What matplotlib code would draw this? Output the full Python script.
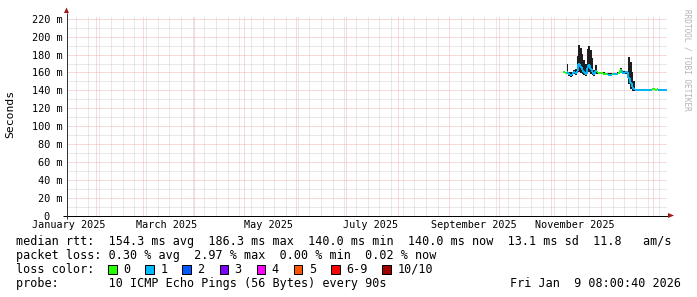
import matplotlib
matplotlib.use("Agg")
import matplotlib.pyplot as plt
import matplotlib.dates as mdates
from matplotlib.collections import LineCollection
from matplotlib.patches import Rectangle, Polygon
import numpy as np
import pandas as pd

W, H = 697, 297
MONO = "DejaVu Sans Mono"
plt.rcParams["lines.scale_dashes"] = False

# ---- data (one value per day from 2025-11-09) ----
start_day = "2025-11-09"
median_ms = [
    160.0, 159.5, 160.5, 158.0, 157.5, 158.5, 160.0, 159.5, 162.0, 170.0, 166.0,
    163.0, 160.0, 158.5, 165.0, 168.0, 164.0, 160.5, 158.5, 162.0, 160.0, 159.5,
    159.0, 159.0, 158.5, 158.0, 158.0, 157.5, 157.5, 158.0, 158.0, 158.0, 158.5,
    159.0, 163.0, 159.5, 159.5, 160.0, 160.0, 154.0, 148.0, 144.0, 141.0, 140.3,
    140.3, 140.3, 140.3, 140.3, 140.3, 140.3, 140.3, 140.3, 140.3,
    141.0, 141.0, 140.8, 141.0, 140.3, 140.2, 140.2, 140.0, 140.0,
]
smoke_lo_ms = [
    159, 158, 158, 156, 155, 156, 158, 157, 159, 161, 159,
    158, 157, 156, 159, 160, 158, 157, 156, 158, 158, 158,
    158, 158, 157.5, 157, 157, 156.5, 156.5, 157, 157, 157, 157.5,
    158, 160, 158, 158, 158.5, 158.5, 147, 141, 139, 139, 139.5,
    139.5, 139.5, 139.5, 139.5, 139.5, 139.5, 139.5, 139.5, 139.5,
    140.2, 140.2, 140, 140.2, 139.5, 139.4, 139.4, 139.2, 139.2,
]
smoke_hi_ms = [
    161, 161, 169, 161, 160, 161, 163, 164, 178, 191, 187,
    181, 174, 170, 186, 190, 185, 176, 163, 168, 162, 161,
    160.5, 160.5, 160, 159.5, 159.5, 159, 159, 159.5, 159.5, 159.5, 160,
    160.5, 165, 161.5, 161.5, 162, 162, 177, 172, 161, 150, 141.1,
    141.1, 141.1, 141.1, 141.1, 141.1, 141.1, 141.1, 141.1, 141.1,
    141.8, 141.8, 141.6, 141.8, 141.1, 141.0, 141.0, 140.8, 140.8,
]
loss_idx = [
    0, 0, 1, 1, 1, 1, 1, 1, 1, 1, 1,
    1, 1, 1, 1, 1, 1, 1, 1, 1, 0, 0,
    0, 0, 0, 0, 1, 1, 1, 0, 1, 1, 1,
    0, 0, 1, 1, 1, 1, 1, 1, 1, 1, 1,
    1, 1, 1, 1, 1, 1, 1, 1, 1,
    0, 0, 0, 0, 1, 1, 1, 1, 1,
]

loss_labels = ["0", "1", "2", "3", "4", "5", "6-9", "10/10"]
loss_colors = ["#26ff00", "#00b8ff", "#0059ff", "#7e00ff", "#ff00ff",
               "#ff5500", "#ff0000", "#a10000"]

y_major = [0, 20, 40, 60, 80, 100, 120, 140, 160, 180, 200, 220]
y_major_labels = ["0  ", "20 m", "40 m", "60 m", "80 m", "100 m", "120 m",
                  "140 m", "160 m", "180 m", "200 m", "220 m"]
y_minor = [10, 30, 50, 70, 90, 110, 130, 150, 170, 190, 210]

x_label_dates = ["2025-01-15 12:00", "2025-03-15 12:00", "2025-05-15 12:00",
                 "2025-07-15 12:00", "2025-09-15 12:00", "2025-11-15 12:00"]
x_labels = ["January 2025", "March 2025", "May 2025", "July 2025",
            "September 2025", "November 2025"]

end_time = pd.Timestamp("2026-01-09 08:00:40")
begin_time = end_time - pd.Timedelta(days=360)

legend_rtt = "median rtt:  154.3 ms avg  186.3 ms max  140.0 ms min  140.0 ms now  13.1 ms sd  11.8   am/s"
legend_loss = "packet loss: 0.30 % avg  2.97 % max  0.00 % min  0.02 % now"
legend_probe = "probe:       10 ICMP Echo Pings (56 Bytes) every 90s"
stamp = "Fri Jan  9 08:00:40 2026"

# ---- layout ----
def fx(px):
    return px / W

def fy(py):
    return 1 - py / H

fig = plt.figure(figsize=(W / 100, H / 100), dpi=100)
fig.patch.set_facecolor("white")
L, R, T, B = 66.5, 666.5, 15.5, 215.5
ax = fig.add_axes([fx(L), fy(B), (R - L) / W, (B - T) / H])
ax.set_facecolor("white")
for s in ax.spines.values():
    s.set_visible(False)

xmin = mdates.date2num(begin_time)
xmax = mdates.date2num(end_time)
ax.set_xlim(xmin, xmax)
ax.set_ylim(0, 200 / 0.894)

# grid: 1px on / 1px off dots
dots = (0, (0.72, 0.72))
minor_col = "#d2d2d2"
major_col = "#f2b4b4"
mondays = pd.date_range("2025-01-01", "2026-02-01", freq="W-MON")
months = pd.date_range("2025-01-01", "2026-02-01", freq="MS")
for d in mondays:
    if d.day != 1:
        ax.axvline(mdates.date2num(d), color=minor_col, lw=0.72, ls=dots, zorder=1)
for v in y_minor:
    ax.axhline(v, color=minor_col, lw=0.72, ls=dots, zorder=1)
for d in months:
    ax.axvline(mdates.date2num(d), color=major_col, lw=0.72, ls=dots, zorder=1.5)
for v in y_major[1:]:
    ax.axhline(v, color=major_col, lw=0.72, ls=dots, zorder=1.5)

# smoke + median
days = pd.date_range(start_day, periods=len(median_ms), freq="D")
t = mdates.date2num(days)
ax.fill_between(t, smoke_lo_ms, smoke_hi_ms, step="mid", color="#1e1e1e",
                lw=0, zorder=3)

segs, cols = [], []
for i in range(len(t)):
    a, b = t[i] - 0.5, min(t[i] + 0.5, xmax)
    segs.append([(a, median_ms[i]), (b, median_ms[i])])
    cols.append(loss_colors[loss_idx[i]])
    if i + 1 < len(t):
        segs.append([(b, median_ms[i]), (b, median_ms[i + 1])])
        cols.append(loss_colors[loss_idx[i + 1]])
ax.add_collection(LineCollection(segs, colors=cols, linewidths=1.4,
                                 capstyle="butt", zorder=4))

# ticks
ax.set_yticks(y_major)
ax.set_yticklabels(y_major_labels)
ax.set_xticks(mdates.date2num(pd.to_datetime(x_label_dates)))
ax.set_xticklabels(x_labels)
ax.tick_params(axis="y", length=0, pad=3.0, labelsize=7.4)
ax.tick_params(axis="x", length=0, pad=3.6, labelsize=7.3)
for lab in ax.get_xticklabels() + ax.get_yticklabels():
    lab.set_fontfamily(MONO)
    lab.set_color("#000000")

# axes lines and arrows
pw, ph = R - L, B - T
ax.plot([-4 / pw, 1 + 1.5 / pw], [0, 0], transform=ax.transAxes, color="#000000",
        lw=0.72, clip_on=False, zorder=6, solid_capstyle="butt")
ax.plot([0, 0], [-3 / ph, 1 + 2.5 / ph], transform=ax.transAxes, color="#333333",
        lw=0.72, clip_on=False, zorder=6, solid_capstyle="butt")
ax.add_patch(Polygon([(1 + 1.5 / pw, 2.5 / ph), (1 + 7.5 / pw, 0), (1 + 1.5 / pw, -2.5 / ph)],
                     closed=True, transform=ax.transAxes, color="#a01818",
                     clip_on=False, zorder=7, lw=0))
ax.add_patch(Polygon([(-2.5 / pw, 1 + 2.5 / ph), (0, 1 + 8 / ph), (2.5 / pw, 1 + 2.5 / ph)],
                     closed=True, transform=ax.transAxes, color="#a01818",
                     clip_on=False, zorder=7, lw=0))

# axis title and watermark
fig.text(fx(10.5), fy(114), "Seconds", rotation=90, ha="center", va="center",
         family=MONO, fontsize=8.2, color="#000000")
fig.text(fx(686.5), fy(60), "RRDTOOL / TOBI OETIKER", rotation=270, ha="center",
         va="center", family=MONO, fontsize=5.6, color="#b4b4b4")

# legend
fs = 8.45
fig.text(fx(16), fy(245.3), legend_rtt, family=MONO, fontsize=fs, va="baseline")
fig.text(fx(16), fy(259.0), legend_loss, family=MONO, fontsize=fs, va="baseline")
fig.text(fx(16), fy(273.0), "loss color:", family=MONO, fontsize=fs, va="baseline")
fig.text(fx(16), fy(287.0), legend_probe, family=MONO, fontsize=fs, va="baseline")
fig.text(fx(681), fy(287.0), stamp, family=MONO, fontsize=fs, va="baseline", ha="right")

char_w = 7.08
bx = 108.0
for lab, col in zip(loss_labels, loss_colors):
    fig.add_artist(Rectangle((fx(bx), fy(273.5)), 8.5 / W, 8.5 / H,
                             transform=fig.transFigure, facecolor=col,
                             edgecolor="#000000", lw=0.72))
    fig.text(fx(bx + 15), fy(273.0), lab, family=MONO, fontsize=fs, va="baseline")
    bx = bx + 15 + len(lab) * char_w + 15.1

fig.savefig("out.png", dpi=100, facecolor="white")
